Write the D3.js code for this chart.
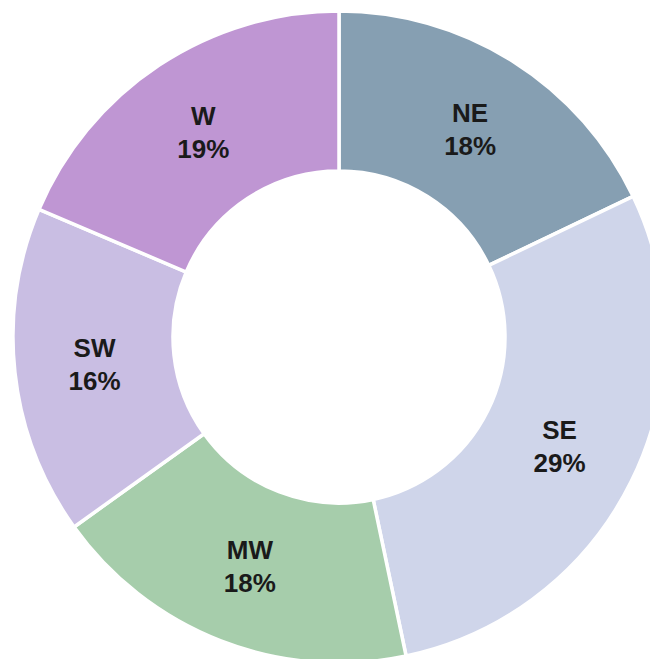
<!DOCTYPE html>
<html>
<head>
<meta charset="utf-8">
<script src="https://cdn.jsdelivr.net/npm/d3@7"></script>
<style>
  html, body { margin: 0; padding: 0; background: #fff; }
  svg { display: block; }
</style>
</head>
<body>
<div class="chart"></div>
<script>
// Data (shares in percent, labels show rounded values)
const regions = ['NE', 'SE', 'MW', 'SW', 'W'];
const shares = [17.9, 28.8, 18.4, 16.3, 18.6];
const colors = ['#869fb2', '#cfd5ea', '#a6cdab', '#c9bee3', '#bf96d3'];

const width = 650;
const height = 659;
const cx = 339, cy = 337;
const outerR = 326, innerR = 166;

const data = regions.map((r, i) => ({ region: r, value: shares[i], color: colors[i] }));

const svg = d3.select('.chart')
    .append('svg')
    .attr('width', width)
    .attr('height', height);

const g = svg.append('g')
    .attr('transform', `translate(${cx},${cy})`);

const pie = d3.pie()
    .value(d => d.value)
    .sort(null);

const arc = d3.arc()
    .innerRadius(innerR)
    .outerRadius(outerR);

const arcs = pie(data);

// Slices
g.selectAll('path')
    .data(arcs)
    .enter()
    .append('path')
    .attr('d', arc)
    .attr('fill', d => d.data.color)
    .attr('stroke', '#fff')
    .attr('stroke-width', 3.5);

// Labels
const labels = g.selectAll('.label')
    .data(arcs)
    .enter()
    .append('text')
    .attr('class', 'label')
    .attr('transform', d => `translate(${arc.centroid(d)})`)
    .attr('text-anchor', 'middle')
    .style('font-family', 'Liberation Sans, Arial, sans-serif')
    .style('font-weight', 'bold')
    .style('font-size', '26px')
    .attr('fill', '#1a1a1a');

labels.append('tspan')
    .attr('x', 0)
    .attr('y', -7)
    .text(d => d.data.region);

labels.append('tspan')
    .attr('x', 0)
    .attr('y', 26)
    .text(d => Math.round(d.data.value) + '%');
</script>
</body>
</html>
